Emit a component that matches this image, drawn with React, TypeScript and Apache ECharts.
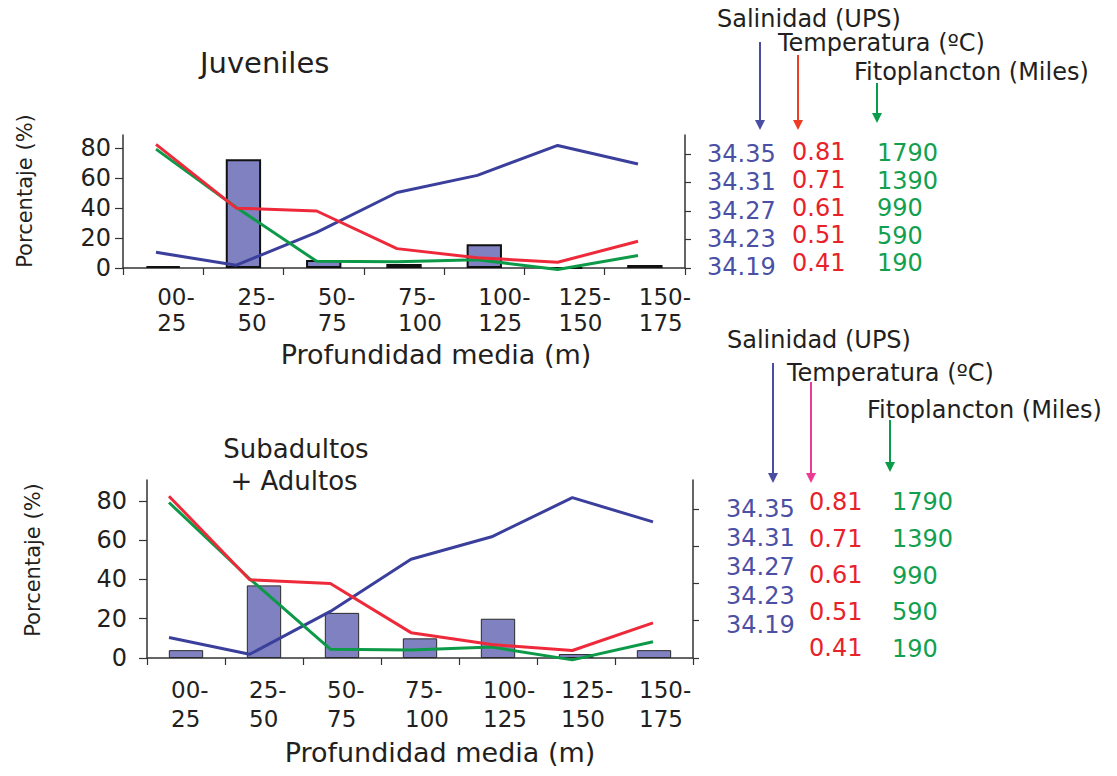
import { useEffect, useRef } from 'react';
import * as echarts from 'echarts';

// ---------- data ----------
const CATEGORIES = ['00-\n25', '25-\n50', '50-\n75', '75-\n100', '100-\n125', '125-\n150', '150-\n175'];
const JUVENILES = [1.2, 72.5, 5.3, 2.7, 15.8, 0, 2];
const SUBADULTOS_ADULTOS = [4, 37, 23, 10, 20, 2, 4];
const SALINIDAD = [34.212, 34.194, 34.24, 34.296, 34.32, 34.362, 34.336];
const TEMPERATURA = [0.844, 0.62, 0.61, 0.478, 0.446, 0.43, 0.504];
const FITOPLANCTON = [1858, 1040, 284, 277, 307, 170, 364];
const PCT_TICKS = [0, 20, 40, 60, 80];
const SAL_TICKS = [34.19, 34.23, 34.27, 34.31, 34.35];
const TEMP_TICKS = [0.41, 0.51, 0.61, 0.71, 0.81];
const FITO_TICKS = [190, 590, 990, 1390, 1790];

// ---------- style / layout ----------
const FONT = "'DejaVu Sans', Verdana, sans-serif";
const INK = '#231f20';
const AXIS = '#333333';
const C_SAL = '#3b3f9c';
const C_TEMP = '#ee2a3a';
const C_FITO = '#0c9a48';
const L_SAL = '#4b50a5';
const L_TEMP = '#e8222b';
const L_FITO = '#11a04f';
const BAR = '#8081c1';
const TICK_PCT = 19; // right-axis tick spacing expressed in % units

type Col = { x: number; yFirst: number; yLast: number };
type Panel = {
  title: string;
  bars: number[];
  grid: { left: number; right: number; top: number; bottom: number };
  pctMax: number;
  lineSpan: [number, number];
  pctLabelMargin: number;
  xLabelShift: number;
  xLabelMargin: number;
  xLineHeight: number;
  barBorder: string;
  barBorderWidth: number;
  sal: Col;
  temp: Col;
  fito: Col;
};

const PANELS: Panel[] = [
  {
    title: 'Juveniles',
    bars: JUVENILES,
    grid: { left: 123, right: 685, top: 135, bottom: 268 },
    pctMax: 88.67,
    lineSpan: [156, 638],
    pctLabelMargin: 12,
    xLabelShift: -6,
    xLabelMargin: 16,
    xLineHeight: 26,
    barBorder: '#111111',
    barBorderWidth: 2,
    sal: { x: 707, yFirst: 267, yLast: 154 },
    temp: { x: 792, yFirst: 263, yLast: 152 },
    fito: { x: 877, yFirst: 263, yLast: 153 },
  },
  {
    title: 'Subadultos\n+ Adultos',
    bars: SUBADULTOS_ADULTOS,
    grid: { left: 147, right: 693, top: 480, bottom: 658 },
    pctMax: 90.7,
    lineSpan: [169, 653],
    pctLabelMargin: 20,
    xLabelShift: -15,
    xLabelMargin: 17,
    xLineHeight: 29,
    barBorder: '#2a2a2a',
    barBorderWidth: 1,
    sal: { x: 726, yFirst: 625, yLast: 509 },
    temp: { x: 809, yFirst: 648, yLast: 502 },
    fito: { x: 892, yFirst: 649, yLast: 502 },
  },
];

const decimals = (ticks: number[]) => (Number.isInteger(ticks[1] - ticks[0]) && Number.isInteger(ticks[0]) ? 0 : 2);

function dataMax(ticks: number[], pctMax: number) {
  return ticks[0] + (ticks[1] - ticks[0]) * (pctMax / TICK_PCT);
}

function labelAxis(ticks: number[], col: Col, p: Panel, gridIndex: number, color: string) {
  const ppu = (col.yFirst - col.yLast) / (ticks[ticks.length - 1] - ticks[0]);
  const min = ticks[0] - (p.grid.bottom - col.yFirst) / ppu;
  const max = ticks[0] + (col.yFirst - p.grid.top) / ppu;
  const d = decimals(ticks);
  return {
    type: 'value',
    gridIndex,
    position: 'right',
    offset: col.x - p.grid.right,
    min,
    max,
    axisLine: { show: false },
    axisTick: { show: false },
    splitLine: { show: false },
    axisLabel: {
      show: true,
      margin: 0,
      customValues: ticks,
      color,
      fontFamily: FONT,
      fontSize: 24,
      formatter: (v: number) => {
        const near = ticks.reduce((a, b) => (Math.abs(b - v) < Math.abs(a - v) ? b : a));
        return Math.abs(near - v) < 1e-6 * Math.max(1, Math.abs(v)) ? near.toFixed(d) : '';
      },
    },
  };
}

function dataAxis(ticks: number[], p: Panel, gridIndex: number) {
  return {
    type: 'value',
    gridIndex,
    show: false,
    min: ticks[0],
    max: dataMax(ticks, p.pctMax),
    splitLine: { show: false },
  };
}

function arrow(x: number, y1: number, tip: number, color: string) {
  return [
    { type: 'line', shape: { x1: x, y1, x2: x, y2: tip - 8 }, style: { stroke: color, lineWidth: 2 } },
    {
      type: 'polygon',
      shape: { points: [[x - 5, tip - 10], [x + 5, tip - 10], [x, tip]] },
      style: { fill: color },
    },
  ];
}

function text(t: string, x: number, y: number, size: number, align = 'left', extra: any = {}) {
  return {
    type: 'text',
    x,
    y,
    ...extra,
    style: {
      text: t,
      fill: INK,
      font: `${size}px ${FONT}`,
      align,
      verticalAlign: 'middle',
      lineHeight: extra.lineHeight || size * 1.2,
    },
  };
}

export default function App() {
  const ref = useRef<HTMLDivElement>(null);

  useEffect(() => {
    if (!ref.current) return;
    const chart = echarts.init(ref.current, undefined, { renderer: 'svg' });

    const grids: any[] = [];
    const xAxes: any[] = [];
    const yAxes: any[] = [];
    const series: any[] = [];

    PANELS.forEach((p, pi) => {
      const gMain = 2 * pi;
      const gLine = 2 * pi + 1;
      const base = pi * 8;
      const h = p.grid.bottom - p.grid.top;
      grids.push({
        left: p.grid.left,
        top: p.grid.top,
        width: p.grid.right - p.grid.left,
        height: h,
        containLabel: false,
        outerBoundsMode: 'none',
      });
      grids.push({
        left: p.lineSpan[0],
        top: p.grid.top,
        width: p.lineSpan[1] - p.lineSpan[0],
        height: h,
        containLabel: false,
        outerBoundsMode: 'none',
      });
      xAxes.push({
        type: 'category',
        gridIndex: gMain,
        data: CATEGORIES,
        axisLine: { show: true, lineStyle: { color: AXIS, width: 1.5 } },
        axisTick: { show: true, length: 7, lineStyle: { color: AXIS, width: 1.2 } },
        axisLabel: {
          interval: 0,
          align: 'left',
          padding: [0, 0, 0, p.xLabelShift],
          margin: p.xLabelMargin,
          lineHeight: p.xLineHeight,
          color: INK,
          fontFamily: FONT,
          fontSize: 23,
        },
      });
      xAxes.push({ type: 'category', gridIndex: gLine, data: CATEGORIES, show: false, boundaryGap: false });

      // 0 percent (left)
      yAxes.push({
        type: 'value',
        gridIndex: gMain,
        position: 'left',
        min: 0,
        max: p.pctMax,
        axisLine: { show: true, lineStyle: { color: AXIS, width: 1.5 } },
        axisTick: { show: true, length: 8, customValues: PCT_TICKS, lineStyle: { color: AXIS, width: 1.2 } },
        axisLabel: {
          customValues: PCT_TICKS,
          margin: p.pctLabelMargin,
          color: INK,
          fontFamily: FONT,
          fontSize: 24,
          formatter: (v: number) => (PCT_TICKS.includes(Math.round(v)) && Math.abs(v - Math.round(v)) < 1e-6 ? String(Math.round(v)) : ''),
        },
        splitLine: { show: false },
      });
      // 1 right frame (salinity scale ticks)
      yAxes.push({
        type: 'value',
        gridIndex: gMain,
        position: 'right',
        min: SAL_TICKS[0],
        max: dataMax(SAL_TICKS, p.pctMax),
        axisLine: { show: true, lineStyle: { color: AXIS, width: 1.5 } },
        axisTick: { show: true, inside: false, length: 6, customValues: SAL_TICKS, lineStyle: { color: AXIS, width: 1.2 } },
        axisLabel: { show: false },
        splitLine: { show: false },
      });
      // 2-4 label columns
      yAxes.push(labelAxis(SAL_TICKS, p.sal, p, gMain, L_SAL));
      yAxes.push(labelAxis(TEMP_TICKS, p.temp, p, gMain, L_TEMP));
      yAxes.push(labelAxis(FITO_TICKS, p.fito, p, gMain, L_FITO));
      // 5-7 data axes for lines
      yAxes.push(dataAxis(SAL_TICKS, p, gLine));
      yAxes.push(dataAxis(TEMP_TICKS, p, gLine));
      yAxes.push(dataAxis(FITO_TICKS, p, gLine));

      series.push({
        name: p.title + ' %',
        type: 'bar',
        xAxisIndex: gMain,
        yAxisIndex: base,
        data: p.bars,
        barWidth: '44%',
        itemStyle: { color: BAR, borderColor: p.barBorder, borderWidth: p.barBorderWidth },
        z: 2,
      });
      const line = (name: string, data: number[], yi: number, color: string) => ({
        name,
        type: 'line',
        xAxisIndex: gLine,
        yAxisIndex: base + yi,
        data,
        symbol: 'none',
        clip: false,
        lineStyle: { color, width: 3 },
        z: 3,
      });
      series.push(line('Salinidad (UPS)', SALINIDAD, 5, C_SAL));
      series.push(line('Fitoplancton (Miles)', FITOPLANCTON, 7, C_FITO));
      series.push(line('Temperatura (ºC)', TEMPERATURA, 6, C_TEMP));
    });

    const graphic: any[] = [
      text('Juveniles', 200, 63, 29),
      text('Subadultos', 296, 449, 26, 'center'),
      text('+ Adultos', 294, 481, 26, 'center'),
      text('Porcentaje (%)', 25, 191, 21, 'center', { rotation: Math.PI / 2 }),
      text('Porcentaje (%)', 33, 560, 21, 'center', { rotation: Math.PI / 2 }),
      text('Profundidad media (m)', 436, 354, 27, 'center'),
      text('Profundidad media (m)', 440, 752, 27, 'center'),
      text('Salinidad (UPS)', 717, 19, 24),
      text('Temperatura (ºC)', 778, 43, 24),
      text('Fitoplancton (Miles)', 854, 72, 24),
      text('Salinidad (UPS)', 727, 340, 24),
      text('Temperatura (ºC)', 787, 373, 24),
      text('Fitoplancton (Miles)', 867, 410, 24),
      ...arrow(760, 42, 130, '#4a4ea3'),
      ...arrow(798, 55, 130, '#ee3b24'),
      ...arrow(877, 83, 123, '#0b9c4a'),
      ...arrow(773, 363, 483, '#4a4ea3'),
      ...arrow(811, 382, 483, '#ec3b95'),
      ...arrow(890, 420, 472, '#0b9c4a'),
    ];

    chart.setOption({
      animation: false,
      backgroundColor: '#ffffff',
      textStyle: { fontFamily: FONT },
      grid: grids,
      xAxis: xAxes,
      yAxis: yAxes,
      series,
      graphic,
    });

    return () => chart.dispose();
  }, []);

  return (
    <div
      ref={ref}
      style={{ position: 'absolute', left: 0, top: 0, width: 1117, height: 776, background: '#fff' }}
    />
  );
}
